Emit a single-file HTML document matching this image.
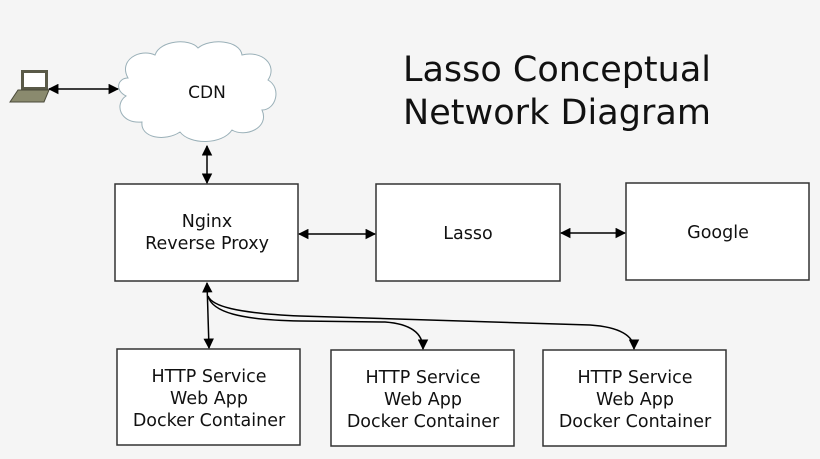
<!DOCTYPE html>
<html><head><meta charset="utf-8"><style>
html,body{margin:0;padding:0;background:#f5f5f5;}
svg{display:block;}
text{font-family:"DejaVu Sans","Liberation Sans",sans-serif;fill:#111;}
</style></head><body>
<svg width="820" height="459" viewBox="0 0 820 459" xmlns="http://www.w3.org/2000/svg">
<defs>
<marker id="a" viewBox="0 0 10 10" refX="9" refY="5" markerWidth="7" markerHeight="7" orient="auto-start-reverse">
<path d="M0,0 L10,5 L0,10 z" fill="#000"/></marker>
</defs>
<rect width="820" height="459" fill="#f5f5f5"/>
<!-- laptop -->
<rect x="21" y="70" width="27" height="20" fill="#5a5a48"/>
<rect x="24" y="73" width="21" height="14" fill="#fff"/>
<polygon points="18,90 49,90 44,102 10,102" fill="#8a8a6e" stroke="#4a4a3a" stroke-width="1"/>
<!-- cloud -->
<path d="M128,78 C118,60 140,48 155,55 C160,40 190,38 198,48 C210,38 240,40 242,55 C262,50 278,65 268,80 C282,88 276,110 262,110 C270,128 245,138 232,130 C222,145 190,145 180,132 C165,142 140,138 142,122 C120,124 114,104 126,96 C114,90 118,78 128,78 Z" fill="#fff" stroke="#9ab0b8" stroke-width="1"/>
<text x="207" y="98" font-size="17" text-anchor="middle">CDN</text>
<!-- title -->
<text x="403" y="81" font-size="35" textLength="308">Lasso Conceptual</text>
<text x="403" y="124" font-size="35" textLength="308">Network Diagram</text>
<!-- boxes -->
<g fill="#fff" stroke="#333" stroke-width="1.5">
<rect x="115" y="184" width="183" height="97"/>
<rect x="376" y="184" width="184" height="97"/>
<rect x="626" y="183" width="183" height="97"/>
<rect x="117" y="349" width="183" height="96"/>
<rect x="331" y="350" width="183" height="96"/>
<rect x="543" y="350" width="183" height="96"/>
</g>
<g font-size="17.5" text-anchor="middle">
<text x="207" y="227">Nginx</text>
<text x="207" y="249">Reverse Proxy</text>
<text x="468" y="239">Lasso</text>
<text x="718" y="238">Google</text>
<text x="209" y="382">HTTP Service</text><text x="209" y="404">Web App</text><text x="209" y="426">Docker Container</text>
<text x="423" y="383">HTTP Service</text><text x="423" y="405">Web App</text><text x="423" y="427">Docker Container</text>
<text x="635" y="383">HTTP Service</text><text x="635" y="405">Web App</text><text x="635" y="427">Docker Container</text>
</g>
<!-- connectors -->
<g stroke="#000" stroke-width="1.5" fill="none">
<line x1="49" y1="89" x2="118" y2="89" marker-start="url(#a)" marker-end="url(#a)"/>
<line x1="207" y1="146" x2="207" y2="183" marker-start="url(#a)" marker-end="url(#a)"/>
<line x1="299" y1="234" x2="375" y2="234" marker-start="url(#a)" marker-end="url(#a)"/>
<line x1="561" y1="233" x2="625" y2="233" marker-start="url(#a)" marker-end="url(#a)"/>
<line x1="207" y1="283" x2="209" y2="348" marker-start="url(#a)" marker-end="url(#a)"/>
<path d="M208,296 C212,312 240,320 300,321 L385,322 C412,324 423,334 423,349" marker-end="url(#a)"/>
<path d="M208,296 C212,306 235,313 300,316 L590,325 C620,327 634,336 634,349" marker-end="url(#a)"/>
</g>
</svg>
</body></html>
